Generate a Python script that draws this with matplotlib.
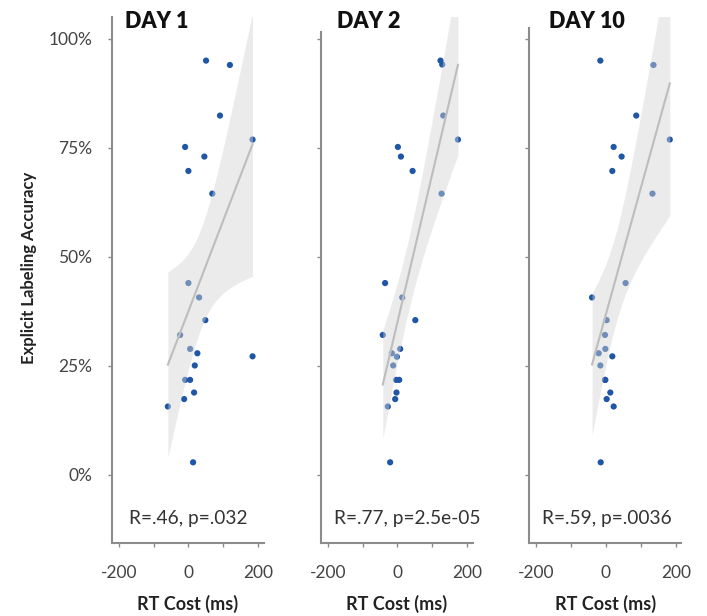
import numpy as np
import matplotlib
matplotlib.use("Agg")
import matplotlib.pyplot as plt

plt.rcParams['font.family'] = ['Lato', 'DejaVu Sans']

# data (RT cost in ms, accuracy in %)
days = ['DAY 1', 'DAY 2', 'DAY 10']
stats = ['R=.46, p=.032', 'R=.77, p=2.5e-05', 'R=.59, p=.0036']

acc = [95.0, 94.0, 82.4, 76.9, 75.2, 73.0, 69.7, 64.5, 44.0, 40.7, 35.5,
       32.1, 28.9, 27.9, 27.2, 25.1, 21.8, 21.8, 18.9, 17.4, 15.7, 2.9]
acc_day2 = [95.0, 94.1, 82.4, 76.9, 75.2, 73.0, 69.7, 64.5, 44.0, 40.7, 35.5,
            32.1, 28.9, 27.9, 27.1, 25.1, 21.8, 21.8, 18.9, 17.4, 15.7, 2.9]

rt_day1 = [50.6, 119, 90.6, 184, -9.4, 45.8, 0, 68.6, 0, 30.6, 48.6,
           -23.7, 4.9, 25.7, 184, 18.3, -9.4, 4.9, 16.3, -12.3, -58.9, 13.4]
rt_day2 = [123.7, 128.6, 131.5, 173.7, 1.4, 10.1, 43.6, 126.6, -35.3, 13.9, 51.4,
           -41.9, 8.1, -15.9, -1.4, -12.1, -3.5, 5.2, -2.6, -6.4, -27.5, -20.8]
rt_day10 = [-16.2, 136.2, 86.7, 182.9, 21.9, 44.8, 18.1, 133.3, 56.2, -40, 1.9,
            -2.9, -1.9, -20.9, 18.1, -16.2, -2.9, -1.9, 12.4, 1.9, 22, -15.2]

rts = [rt_day1, rt_day2, rt_day10]
accs = [acc, acc_day2, acc]

# layout in pixels of the 707x616 reference
W, H = 707, 616
ax_left = [111.7, 320.7, 529.3]
ax_w = 152
ax_top, ax_bot = 17, 543
spine_top = [105, 101.5, 102.4]
title_x = [125, 337, 549]
stat_x = [0.505, 0.57, 0.51]

t_crit = 2.086  # df = 20

fig = plt.figure(figsize=(W / 100, H / 100), dpi=100)
for i in range(3):
    ax = fig.add_axes([ax_left[i] / W, 1 - ax_bot / H, ax_w / W, (ax_bot - ax_top) / H])
    x = np.array(rts[i], dtype=float)
    y = np.array(accs[i], dtype=float)

    ax.scatter(x, y, s=20, color='#1f56a6', edgecolor='none', zorder=2)

    # least squares fit with 95% confidence band
    b, a = np.polyfit(x, y, 1)
    xs = np.linspace(x.min(), x.max(), 100)
    ys = a + b * xs
    n = len(x)
    resid = y - (a + b * x)
    s = np.sqrt(np.sum(resid ** 2) / (n - 2))
    se = s * np.sqrt(1 / n + (xs - x.mean()) ** 2 / np.sum((x - x.mean()) ** 2))
    ax.fill_between(xs, ys - t_crit * se, ys + t_crit * se, color='#d4d4d4',
                    alpha=0.45, linewidth=0, zorder=3)
    ax.plot(xs, ys, color='#bdbdbd', lw=1.5, zorder=4)

    ax.set_xlim(-220, 216)
    ax.set_ylim(-15.6, 105)
    ax.set_xticks([-200, -100, 0, 100, 200])
    ax.set_xticklabels(['-200', '', '0', '', '200'])
    ax.set_yticks([0, 25, 50, 75, 100])
    if i == 0:
        ax.set_yticklabels(['0%', '25%', '50%', '75%', '100%'])
    else:
        ax.set_yticklabels([])

    for side in ['top', 'right']:
        ax.spines[side].set_visible(False)
    for side in ['left', 'bottom']:
        ax.spines[side].set_color('#8c8c8c')
        ax.spines[side].set_linewidth(1.5)
    ax.spines['left'].set_bounds(-15.6, spine_top[i])
    ax.tick_params(axis='both', length=3, width=1, color='#8c8c8c',
                   labelsize=12.5, labelcolor='#444444')
    ax.tick_params(axis='x', pad=13)
    ax.tick_params(axis='y', pad=11)
    ax.patch.set_alpha(0)

    ax.set_xlabel('RT Cost (ms)', fontsize=13, fontweight='bold', color='#222222',
                  labelpad=10)
    ax.text(stat_x[i], 0.046, stats[i], transform=ax.transAxes, ha='center',
            va='center', fontsize=13.8, color='#333333', clip_on=False)

    fig.text(title_x[i] / W, 1 - 28 / H, days[i], fontsize=15.5, fontweight='heavy',
             color='#111111', ha='left', va='baseline')

fig.text(29 / W, 1 - 268 / H, 'Explicit Labeling Accuracy', rotation=90,
         ha='center', va='center', fontsize=12, fontweight='bold', color='#222222')

fig.savefig('out.png', dpi=100)
